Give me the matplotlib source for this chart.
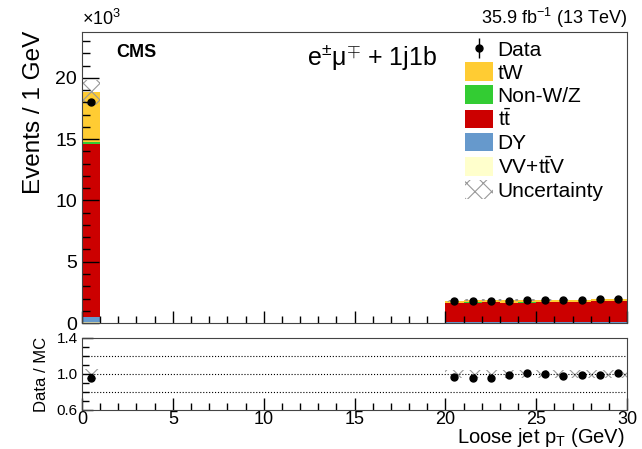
import numpy as np
import matplotlib
matplotlib.use("Agg")
import matplotlib.pyplot as plt
from matplotlib.patches import Patch
from matplotlib.lines import Line2D
from matplotlib.ticker import MultipleLocator

plt.rcParams['font.family'] = ['Liberation Sans', 'DejaVu Sans']
plt.rcParams['mathtext.fontset'] = 'custom'
plt.rcParams['mathtext.rm'] = 'Liberation Sans'
plt.rcParams['mathtext.it'] = 'Liberation Sans:italic'
plt.rcParams['hatch.color'] = '#999999'
plt.rcParams['hatch.linewidth'] = 0.8

# filled bins (lower edges, 1 GeV wide), values in units of 10^3 events
bin_lo = [0, 20, 21, 22, 23, 24, 25, 26, 27, 28, 29]
vv_ttv = [0.12, 0.02, 0.02, 0.02, 0.02, 0.02, 0.02, 0.02, 0.02, 0.02, 0.02]
dy = [0.40, 0.03, 0.03, 0.03, 0.03, 0.03, 0.03, 0.03, 0.03, 0.03, 0.03]
ttbar = [14.08, 1.59, 1.62, 1.635, 1.60, 1.62, 1.64, 1.64, 1.67, 1.73, 1.74]
non_wz = [0.15, 0.02, 0.02, 0.02, 0.02, 0.02, 0.02, 0.02, 0.02, 0.02, 0.02]
tw = [4.08, 0.17, 0.17, 0.17, 0.17, 0.17, 0.17, 0.17, 0.17, 0.17, 0.17]
data = [18.0, 1.76, 1.77, 1.80, 1.82, 1.88, 1.88, 1.84, 1.89, 1.95, 2.00]
rel_unc = [0.055, 0.045, 0.045, 0.045, 0.045, 0.045, 0.045, 0.045, 0.045, 0.045, 0.045]

labels = ['VV+t$\\bar{\\rm t}$V', 'DY', 't$\\bar{\\rm t}$', 'Non-W/Z', 'tW']
colors = ['#ffffcc', '#6699cc', '#cc0000', '#33cc33', '#ffcc33']
stack = [vv_ttv, dy, ttbar, non_wz, tw]

x = np.array(bin_lo, dtype=float)
centers = x + 0.5
data = np.array(data)
total = np.sum(np.array(stack), axis=0)
unc = total * np.array(rel_unc)

fig = plt.figure(figsize=(6.42, 4.49), dpi=100)
ax = fig.add_axes([0.1277, 0.2806, 0.849, 0.6481])
rax = fig.add_axes([0.1277, 0.0869, 0.849, 0.1604])

bottom = np.zeros(len(x))
for vals, col in zip(stack, colors):
    ax.bar(x, vals, width=1.0, bottom=bottom, align='edge', color=col,
           linewidth=0)
    bottom += np.array(vals)

ax.bar(x, 2 * unc, width=1.0, bottom=total - unc, align='edge',
       facecolor='none', edgecolor='#999999', hatch='xx', linewidth=0)
ax.errorbar(centers, data, yerr=np.sqrt(data * 1000) / 1000, fmt='o',
            color='black', markersize=5, elinewidth=1, capsize=0)

ax.set_xlim(0, 30)
ax.set_ylim(0, 23.75)
ax.yaxis.set_major_locator(MultipleLocator(5))
ax.yaxis.set_minor_locator(MultipleLocator(1))
ax.xaxis.set_major_locator(MultipleLocator(5))
ax.xaxis.set_minor_locator(MultipleLocator(1))
ax.tick_params(axis='x', labelbottom=False)
ax.tick_params(which='major', direction='in', length=12, width=1,
               labelsize=14, top=False, right=False)
ax.tick_params(which='minor', direction='in', length=6, width=1,
               top=False, right=False)
ax.tick_params(axis='x', which='major', length=9)
ax.tick_params(axis='x', which='minor', length=5)
ax.set_ylabel('Events / 1 GeV', fontsize=17.5, loc='top')
ax.yaxis.set_label_coords(-0.068, 1.005)
for sp in ax.spines.values():
    sp.set_color('#444444')

# ratio panel
ratio = data / total
ratio_err = np.sqrt(data * 1000) / 1000 / total
rax.bar(x, 2 * np.array(rel_unc), width=1.0, bottom=1 - np.array(rel_unc),
        align='edge', facecolor='none', edgecolor='#999999', hatch='xx',
        linewidth=0)
rax.errorbar(centers, ratio, yerr=ratio_err, fmt='o', color='black',
             markersize=5, elinewidth=1, capsize=0)
for yv in [0.8, 1.0, 1.2]:
    rax.axhline(yv, color='black', linestyle=':', linewidth=0.8)
rax.set_xlim(0, 30)
rax.set_ylim(0.6, 1.4)
rax.set_yticks([0.6, 1.0, 1.4])
rax.set_yticklabels(['0.6', '1.0', '1.4'])
rax.yaxis.set_minor_locator(MultipleLocator(0.1))
rax.xaxis.set_major_locator(MultipleLocator(5))
rax.xaxis.set_minor_locator(MultipleLocator(1))
rax.tick_params(which='major', direction='in', length=8, width=1,
                top=False, right=False)
rax.tick_params(axis='y', which='major', labelsize=11, pad=3)
rax.tick_params(axis='x', which='major', labelsize=13, length=9, pad=0.5)
rax.tick_params(which='minor', direction='in', length=5, width=1,
                top=False, right=False)
rax.set_ylabel('Data / MC', fontsize=12)
rax.yaxis.set_label_coords(-0.061, 0.5)
for sp in rax.spines.values():
    sp.set_color('#444444')

fig.text(625 / 642, 0.0, 'Loose jet p$_{\\rm T}$ (GeV)', fontsize=14.5,
         ha='right', va='bottom')
fig.text(0.1277, 1 - 19 / 449, '×10$^{3}$', fontsize=13, ha='left',
         va='center')
fig.text(0.9766, 1 - 18 / 449, '35.9 fb$^{-1}$ (13 TeV)', fontsize=13,
         ha='right', va='center')
ax.text(0.063, 0.931, 'CMS', transform=ax.transAxes, fontsize=13,
        fontweight='bold', ha='left', va='center')
ax.text(0.532, 0.914, 'e$^{\\pm}$μ$^{\\mp}$ + 1j1b', transform=ax.transAxes,
        fontsize=18, ha='center', va='center')

data_handle = (Line2D([], [], color='black', marker='|', markersize=14,
                      markeredgewidth=1, linestyle='none'),
               Line2D([], [], color='black', marker='o', markersize=5,
                      linestyle='none'))
handles = [data_handle]
for lab, col in zip(labels[::-1], colors[::-1]):
    handles.append(Patch(facecolor=col, edgecolor='none', label=lab))
handles.append(Patch(facecolor='white', edgecolor='#999999', hatch='xx',
                     linewidth=0))
leg_labels = ['Data'] + labels[::-1] + ['Uncertainty']
fig.legend(handles, leg_labels, loc='upper left',
           bbox_to_anchor=(455 / 642, 1 - 29 / 449), frameon=False,
           fontsize=15, handlelength=1.3, handleheight=1.0,
           handletextpad=0.25, labelspacing=0.12, borderpad=0)

fig.savefig('out.png', dpi=100)
